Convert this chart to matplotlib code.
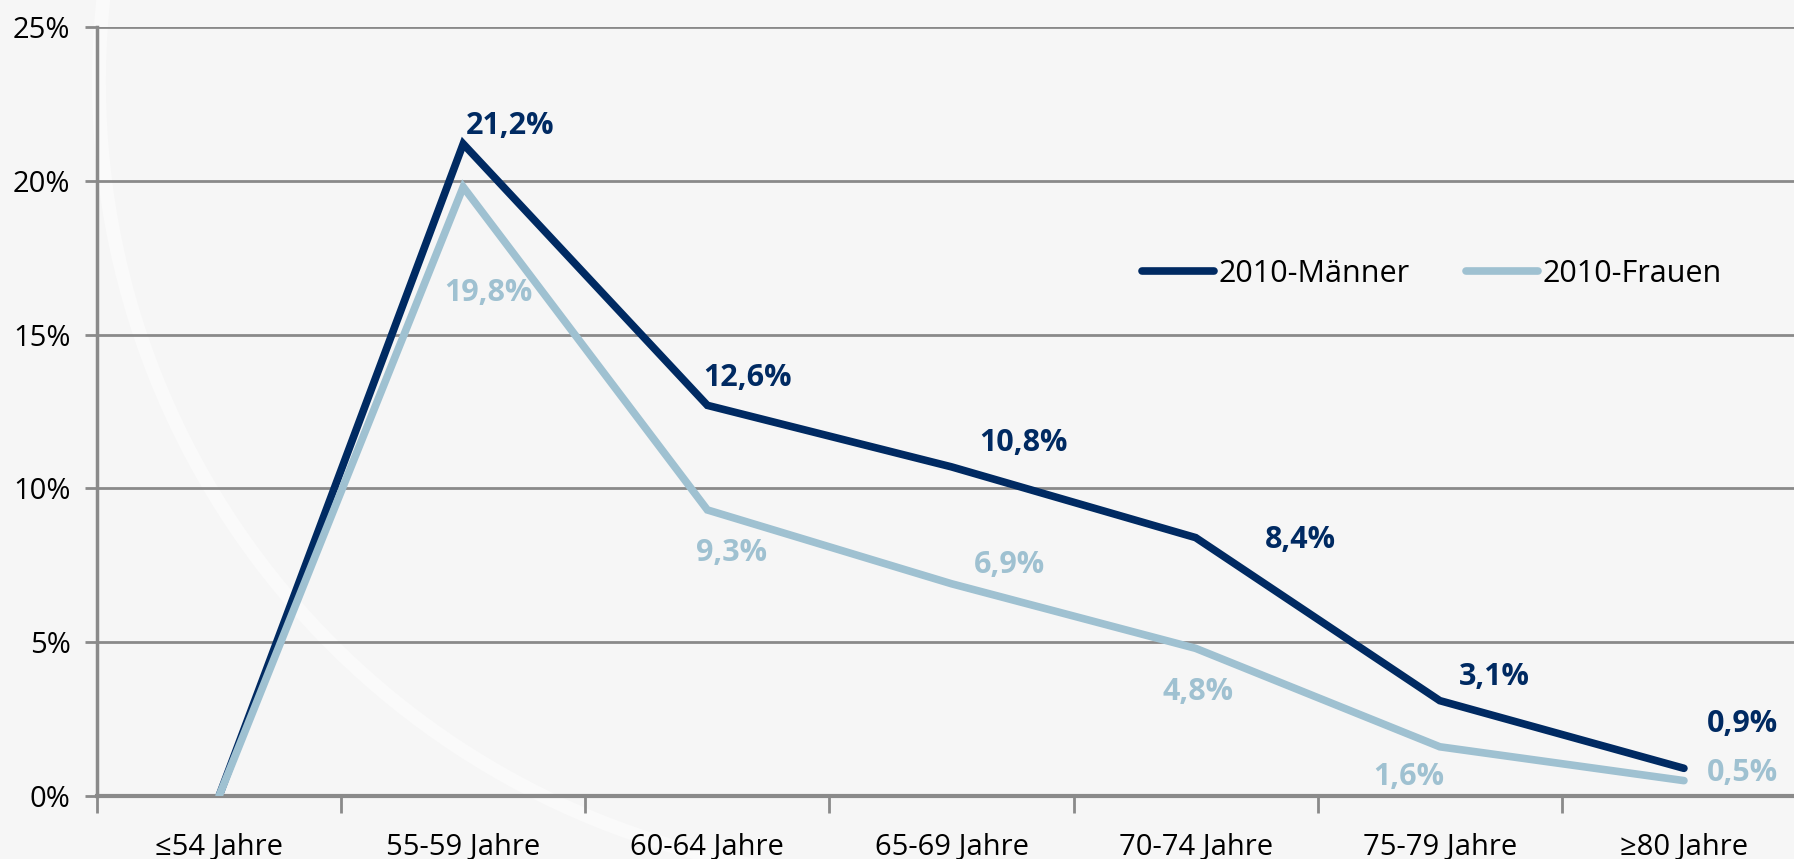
import numpy as np
import matplotlib.pyplot as plt
from matplotlib.patches import Arc

# Data
categories = ["≤54 Jahre", "55-59 Jahre", "60-64 Jahre", "65-69 Jahre",
              "70-74 Jahre", "75-79 Jahre", "≥80 Jahre"]
maenner = [0.0, 21.2, 12.7, 10.7, 8.4, 3.1, 0.9]
frauen = [0.0, 19.8, 9.3, 6.9, 4.8, 1.6, 0.5]
maenner_labels = [None, "21,2%", "12,6%", "10,8%", "8,4%", "3,1%", "0,9%"]
frauen_labels = [None, "19,8%", "9,3%", "6,9%", "4,8%", "1,6%", "0,5%"]

# label offsets in pixels (dx, dy), dy positive = up
maenner_off = [None, (47, 18), (40, 27), (72, 24), (105, -2), (55, 24), (59, 44)]
frauen_off = [None, (25, -106), (24, -43), (58, 19), (2, -44), (-31, -30), (59, 8)]

navy = "#002a62"
light = "#9fc1d1"
grid_c = "#8a8a8a"

plt.rcParams['font.family'] = ['Open Sans', 'DejaVu Sans']

W, H = 1794, 859
fig = plt.figure(figsize=(W / 100, H / 100), dpi=100)
fig.patch.set_facecolor("#f6f6f6")

# faint decorative swoosh in the background
swoosh = Arc((895, H - 82), 2 * 796, 2 * 796, theta1=172, theta2=262,
             transform=None, color="white", lw=10, alpha=0.45, zorder=-1)
fig.patches.append(swoosh)

ax = fig.add_axes([97 / W, 1 - 796 / H, (1806 - 97) / W, (796 - 27) / H])
ax.patch.set_visible(False)

x = np.arange(len(categories))
ax.plot(x, maenner, color=navy, lw=5.5, solid_capstyle="round", solid_joinstyle="miter",
        label="2010-Männer", zorder=2)
ax.plot(x, frauen, color=light, lw=5.5, solid_capstyle="round", solid_joinstyle="miter",
        label="2010-Frauen", zorder=3)

for xi, yi, lab, off in zip(x, maenner, maenner_labels, maenner_off):
    if lab:
        ax.annotate(lab, (xi, yi), xytext=off, textcoords="offset pixels",
                    ha="center", va="center", color=navy, fontsize=22, fontweight="bold")
for xi, yi, lab, off in zip(x, frauen, frauen_labels, frauen_off):
    if lab:
        ax.annotate(lab, (xi, yi), xytext=off, textcoords="offset pixels",
                    ha="center", va="center", color=light, fontsize=22, fontweight="bold")

ax.set_xlim(-0.5, len(categories) - 0.5)
ax.set_ylim(0, 25)
ax.set_yticks(np.arange(0, 26, 5))
ax.set_yticklabels([f"{v}%" for v in range(0, 26, 5)])
ax.yaxis.grid(True, color=grid_c, lw=2)
ax.set_axisbelow(True)

ax.set_xticks(x)
ax.set_xticklabels(categories)
ax.set_xticks(np.arange(-0.5, len(categories)), minor=True)
ax.tick_params(axis="x", which="major", length=0, pad=27, labelsize=21)
ax.tick_params(axis="x", which="minor", length=12, width=2, color=grid_c, direction="out")
ax.tick_params(axis="y", length=9, width=2, color=grid_c, pad=10, labelsize=21)

for s in ["top", "right"]:
    ax.spines[s].set_visible(False)
ax.spines["left"].set_color(grid_c)
ax.spines["left"].set_linewidth(2.5)
ax.spines["bottom"].set_color(grid_c)
ax.spines["bottom"].set_linewidth(3)

fig.legend(loc="center left", bbox_to_anchor=(1142 / W, 1 - 274 / H), ncol=2,
           frameon=False, fontsize=22, handlelength=2.35, handletextpad=0.16,
           columnspacing=1.83, borderpad=0, borderaxespad=0)

fig.savefig("out.png", dpi=100, facecolor=fig.get_facecolor())
